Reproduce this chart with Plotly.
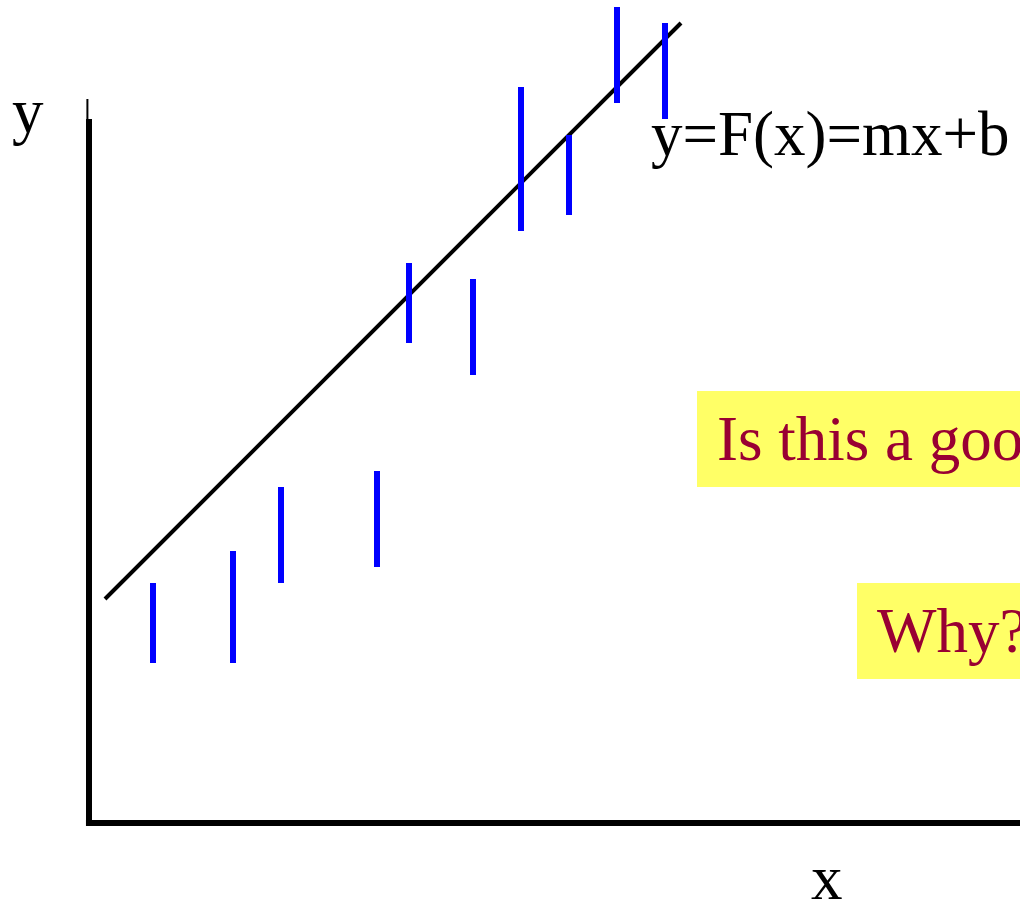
import plotly.graph_objects as go

# Data (grid units)
bar_x = [4, 9, 12, 18, 20, 24, 27, 30, 33, 36]
bar_y = [12.5, 13.5, 18, 19, 32.5, 31, 41.5, 40.5, 48, 47]
bar_err = [2.5, 3.5, 3, 3, 2.5, 3, 4.5, 2.5, 3, 3]

fit_x = [1, 37]
slope = 1.0
intercept = 13.0
fit_y = [slope * v + intercept for v in fit_x]

FONT = "Liberation Serif"
YELLOW = "#FFFF66"
RED = "#990033"

fig = go.Figure()

# axes drawn as lines
fig.add_trace(go.Scatter(x=[-0.19, 62], y=[0, 0], mode="lines",
                         line=dict(color="black", width=6), hoverinfo="skip"))
fig.add_trace(go.Scatter(x=[0, 0], y=[-0.19, 44], mode="lines",
                         line=dict(color="black", width=6), hoverinfo="skip"))
fig.add_trace(go.Scatter(x=[-0.1, -0.1], y=[44, 45.25], mode="lines",
                         line=dict(color="black", width=2), hoverinfo="skip"))

# fit line
fig.add_trace(go.Scatter(x=fit_x, y=fit_y, mode="lines",
                         line=dict(color="black", width=4), hoverinfo="skip"))

# error bars
fig.add_trace(go.Scatter(x=bar_x, y=bar_y, mode="markers",
                         marker=dict(size=1, color="rgba(0,0,0,0)"),
                         error_y=dict(type="data", array=bar_err, visible=True,
                                      color="#0000FF", thickness=6, width=0)))

# yellow highlight boxes
shapes = [
    dict(type="rect", xref="x", yref="y", x0=38, x1=64, y0=21, y1=27,
         fillcolor=YELLOW, line=dict(width=0), layer="below"),
    dict(type="rect", xref="x", yref="y", x0=48, x1=64, y0=9, y1=15,
         fillcolor=YELLOW, line=dict(width=0), layer="below"),
]

annos = [
    dict(x=-4.94, y=42.2, text="y", xanchor="left", yanchor="bottom",
         font=dict(family=FONT, size=63, color="black")),
    dict(x=46.1, y=-1.1, text="x", xanchor="center", yanchor="top",
         font=dict(family=FONT, size=63, color="black")),
    dict(x=35.0, y=40.75, text="y=F(x)=mx+b", xanchor="left", yanchor="bottom",
         font=dict(family=FONT, size=63, color="black")),
    dict(x=39.125, y=26.31, text="Is this a good fit?", xanchor="left", yanchor="top",
         font=dict(family=FONT, size=63, color=RED)),
    dict(x=49.125, y=14.31, text="Why?", xanchor="left", yanchor="top",
         font=dict(family=FONT, size=63, color=RED)),
]
for a in annos:
    a.update(xref="x", yref="y", showarrow=False)

fig.update_layout(
    width=1020, height=901,
    margin=dict(l=0, r=0, t=0, b=0),
    paper_bgcolor="white", plot_bgcolor="white",
    showlegend=False,
    xaxis=dict(range=[-89 / 16, 931 / 16], visible=False, fixedrange=True),
    yaxis=dict(range=[-78 / 16, 823 / 16], visible=False, fixedrange=True),
    annotations=annos,
    shapes=shapes,
)

fig.write_html(
    "out.html",
    config={"displayModeBar": False},
    post_script="document.body.style.margin='0';document.body.style.overflow='hidden';",
)
